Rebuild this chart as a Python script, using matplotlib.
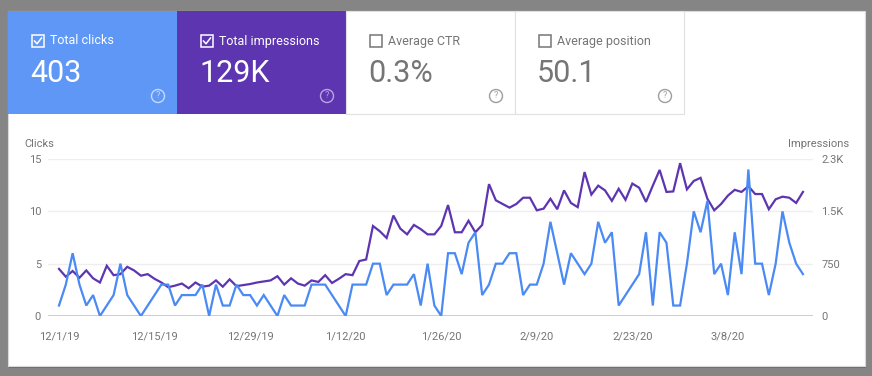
import pandas as pd
import matplotlib.pyplot as plt
from matplotlib.patches import Rectangle, Ellipse
from matplotlib.lines import Line2D

plt.rcParams['font.family'] = ['Roboto', 'DejaVu Sans']

# daily data 12/1/19 - 3/19/20
start_date = "2019-12-01"
clicks = [1, 3, 6, 3, 1, 2, 0, 1, 2, 5, 2, 1, 0, 1, 2, 3, 3, 1, 2, 2,
          2, 3, 0, 3, 1, 1, 3, 2, 2, 1, 2, 1, 0, 2, 1, 1, 1, 3, 3, 3,
          2, 1, 0, 3, 3, 3, 5, 5, 2, 3, 3, 3, 4, 1, 5, 1, 0, 6, 6, 4,
          7, 8, 2, 3, 5, 5, 6, 6, 2, 3, 3, 5, 9, 6, 3, 6, 5, 4, 5, 9,
          7, 8, 1, 2, 3, 4, 8, 1, 8, 7, 1, 1, 5, 10, 8, 11, 4, 5, 2, 8,
          4, 14, 5, 5, 2, 5, 10, 7, 5, 4]
impressions = [675, 563, 645, 548, 653, 540, 480, 720, 585, 600, 705, 653, 578, 600, 533, 480, 413, 435, 465, 398,
               480, 420, 435, 510, 420, 525, 428, 443, 458, 480, 495, 510, 570, 450, 540, 465, 435, 510, 488, 585,
               473, 533, 600, 585, 788, 810, 1290, 1215, 1118, 1440, 1253, 1170, 1305, 1245, 1170, 1170, 1290, 1590, 1200, 1200,
               1365, 1200, 1305, 1890, 1658, 1605, 1553, 1605, 1695, 1695, 1515, 1538, 1680, 1530, 1800, 1620, 1560, 2063, 1740, 1868,
               1800, 1650, 1823, 1665, 1898, 1838, 1635, 1868, 2093, 1778, 1785, 2190, 1815, 1935, 1980, 1680, 1515, 1605, 1725, 1808,
               1778, 1860, 1748, 1748, 1530, 1673, 1710, 1695, 1620, 1778]
dates = pd.date_range(start_date, periods=len(clicks))

xtick_dates = ["2019-12-01", "2019-12-15", "2019-12-29", "2020-01-12",
               "2020-01-26", "2020-02-09", "2020-02-23", "2020-03-08"]
xtick_labels = ["12/1/19", "12/15/19", "12/29/19", "1/12/20",
                "1/26/20", "2/9/20", "2/23/20", "3/8/20"]
left_ticks = [0, 5, 10, 15]
right_ticks = [0, 750, 1500, 2250]
right_labels = ["0", "750", "1.5K", "2.3K"]

tiles = [("Total clicks", "403", True, "#5e97f6"),
         ("Total impressions", "129K", True, "#5e35b1"),
         ("Average CTR", "0.3%", False, "white"),
         ("Average position", "50.1", False, "white")]

W, H = 872, 376
fig = plt.figure(figsize=(W / 100, H / 100), dpi=100)
fig.patch.set_facecolor("#858585")


def fx(x):
    return x / W


def fy(y):
    return 1 - y / H


def rect(x0, y0, x1, y1, **kw):
    r = Rectangle((fx(x0), fy(y1)), (x1 - x0) / W, (y1 - y0) / H,
                  transform=fig.transFigure, **kw)
    fig.add_artist(r)


# card
rect(9, 13, 866, 368, fc="#6a6a6a", ec="none", zorder=0.1)
rect(8, 11, 865, 366, fc="white", ec="#d9d9d9", lw=0.8, zorder=0.2)

# metric tiles
tile_w = 169
for i, (label, value, checked, color) in enumerate(tiles):
    x0 = 8 + i * tile_w
    if color == "white":
        rect(x0, 11, x0 + tile_w, 114, fc="white", ec="#e0e0e0", lw=0.8)
        fg = "#757575"
        icon = "#9e9e9e"
    else:
        rect(x0, 11, x0 + tile_w, 114, fc=color, ec="none")
        fg = "white"
        icon = "#c8d8ff" if i == 0 else "#b8a6e0"
    # checkbox
    bx, by = x0 + 24, 35
    rect(bx, by, bx + 12, by + 12, fc="none", ec=fg, lw=1.1)
    if checked:
        fig.add_artist(Line2D([fx(bx + 2.5), fx(bx + 5), fx(bx + 9.5)],
                              [fy(by + 6), fy(by + 8.8), fy(by + 3)],
                              transform=fig.transFigure, color=fg, lw=1.1))
    fig.text(fx(bx + 18), fy(by + 6), label, color=fg, fontsize=9,
             ha="left", va="center")
    fig.text(fx(x0 + 22), fy(73), value, color=fg, fontsize=22,
             ha="left", va="center")
    # help icon
    cx, cy = x0 + 150, 96
    fig.add_artist(Ellipse((fx(cx), fy(cy)), 13 / W, 13 / H,
                           transform=fig.transFigure, fc="none", ec=icon, lw=1.0))
    fig.text(fx(cx), fy(cy), "?", color=icon, fontsize=6.5, ha="center",
             va="center")

# chart
ax = fig.add_axes([fx(48), fy(316), (813 - 48) / W, (316 - 159) / H])
ax2 = ax.twinx()
ax2.set_zorder(2)
ax.set_zorder(3)
ax.patch.set_visible(False)
ax2.patch.set_visible(False)

ax2.plot(dates, impressions, color="#5e35b1", lw=1.6, solid_joinstyle="miter")
ax.plot(dates, clicks, color="#4a8af4", lw=1.6, solid_joinstyle="miter")

day = pd.Timedelta(days=1)
ax.set_xlim(dates[0] - 1.61 * day, dates[-1] + 1.47 * day)
ax.set_ylim(0, 15)
ax2.set_ylim(0, 2250)

ax.set_yticks(left_ticks)
ax.set_yticklabels([str(t) for t in left_ticks])
ax2.set_yticks(right_ticks)
ax2.set_yticklabels(right_labels)
ax.set_xticks(pd.to_datetime(xtick_dates))
ax.set_xticklabels(xtick_labels)

for t in left_ticks[1:]:
    ax2.axhline(t * 150, color="#eeeeee", lw=1, zorder=0)
ax2.axhline(0, color="#c4c4c4", lw=1.2, zorder=0)

for a in (ax, ax2):
    for s in a.spines.values():
        s.set_visible(False)
ax.tick_params(axis="both", length=0, labelsize=8, labelcolor="#757575")
ax.tick_params(axis="y", pad=5)
ax.tick_params(axis="x", pad=11)
ax2.tick_params(axis="y", length=0, labelsize=8, labelcolor="#757575", pad=6)

fig.text(fx(24), fy(144), "Clicks", color="#757575", fontsize=8,
         ha="left", va="center")
fig.text(fx(849), fy(144), "Impressions", color="#757575", fontsize=8,
         ha="right", va="center")

fig.savefig("out.png", dpi=100, facecolor=fig.get_facecolor())
